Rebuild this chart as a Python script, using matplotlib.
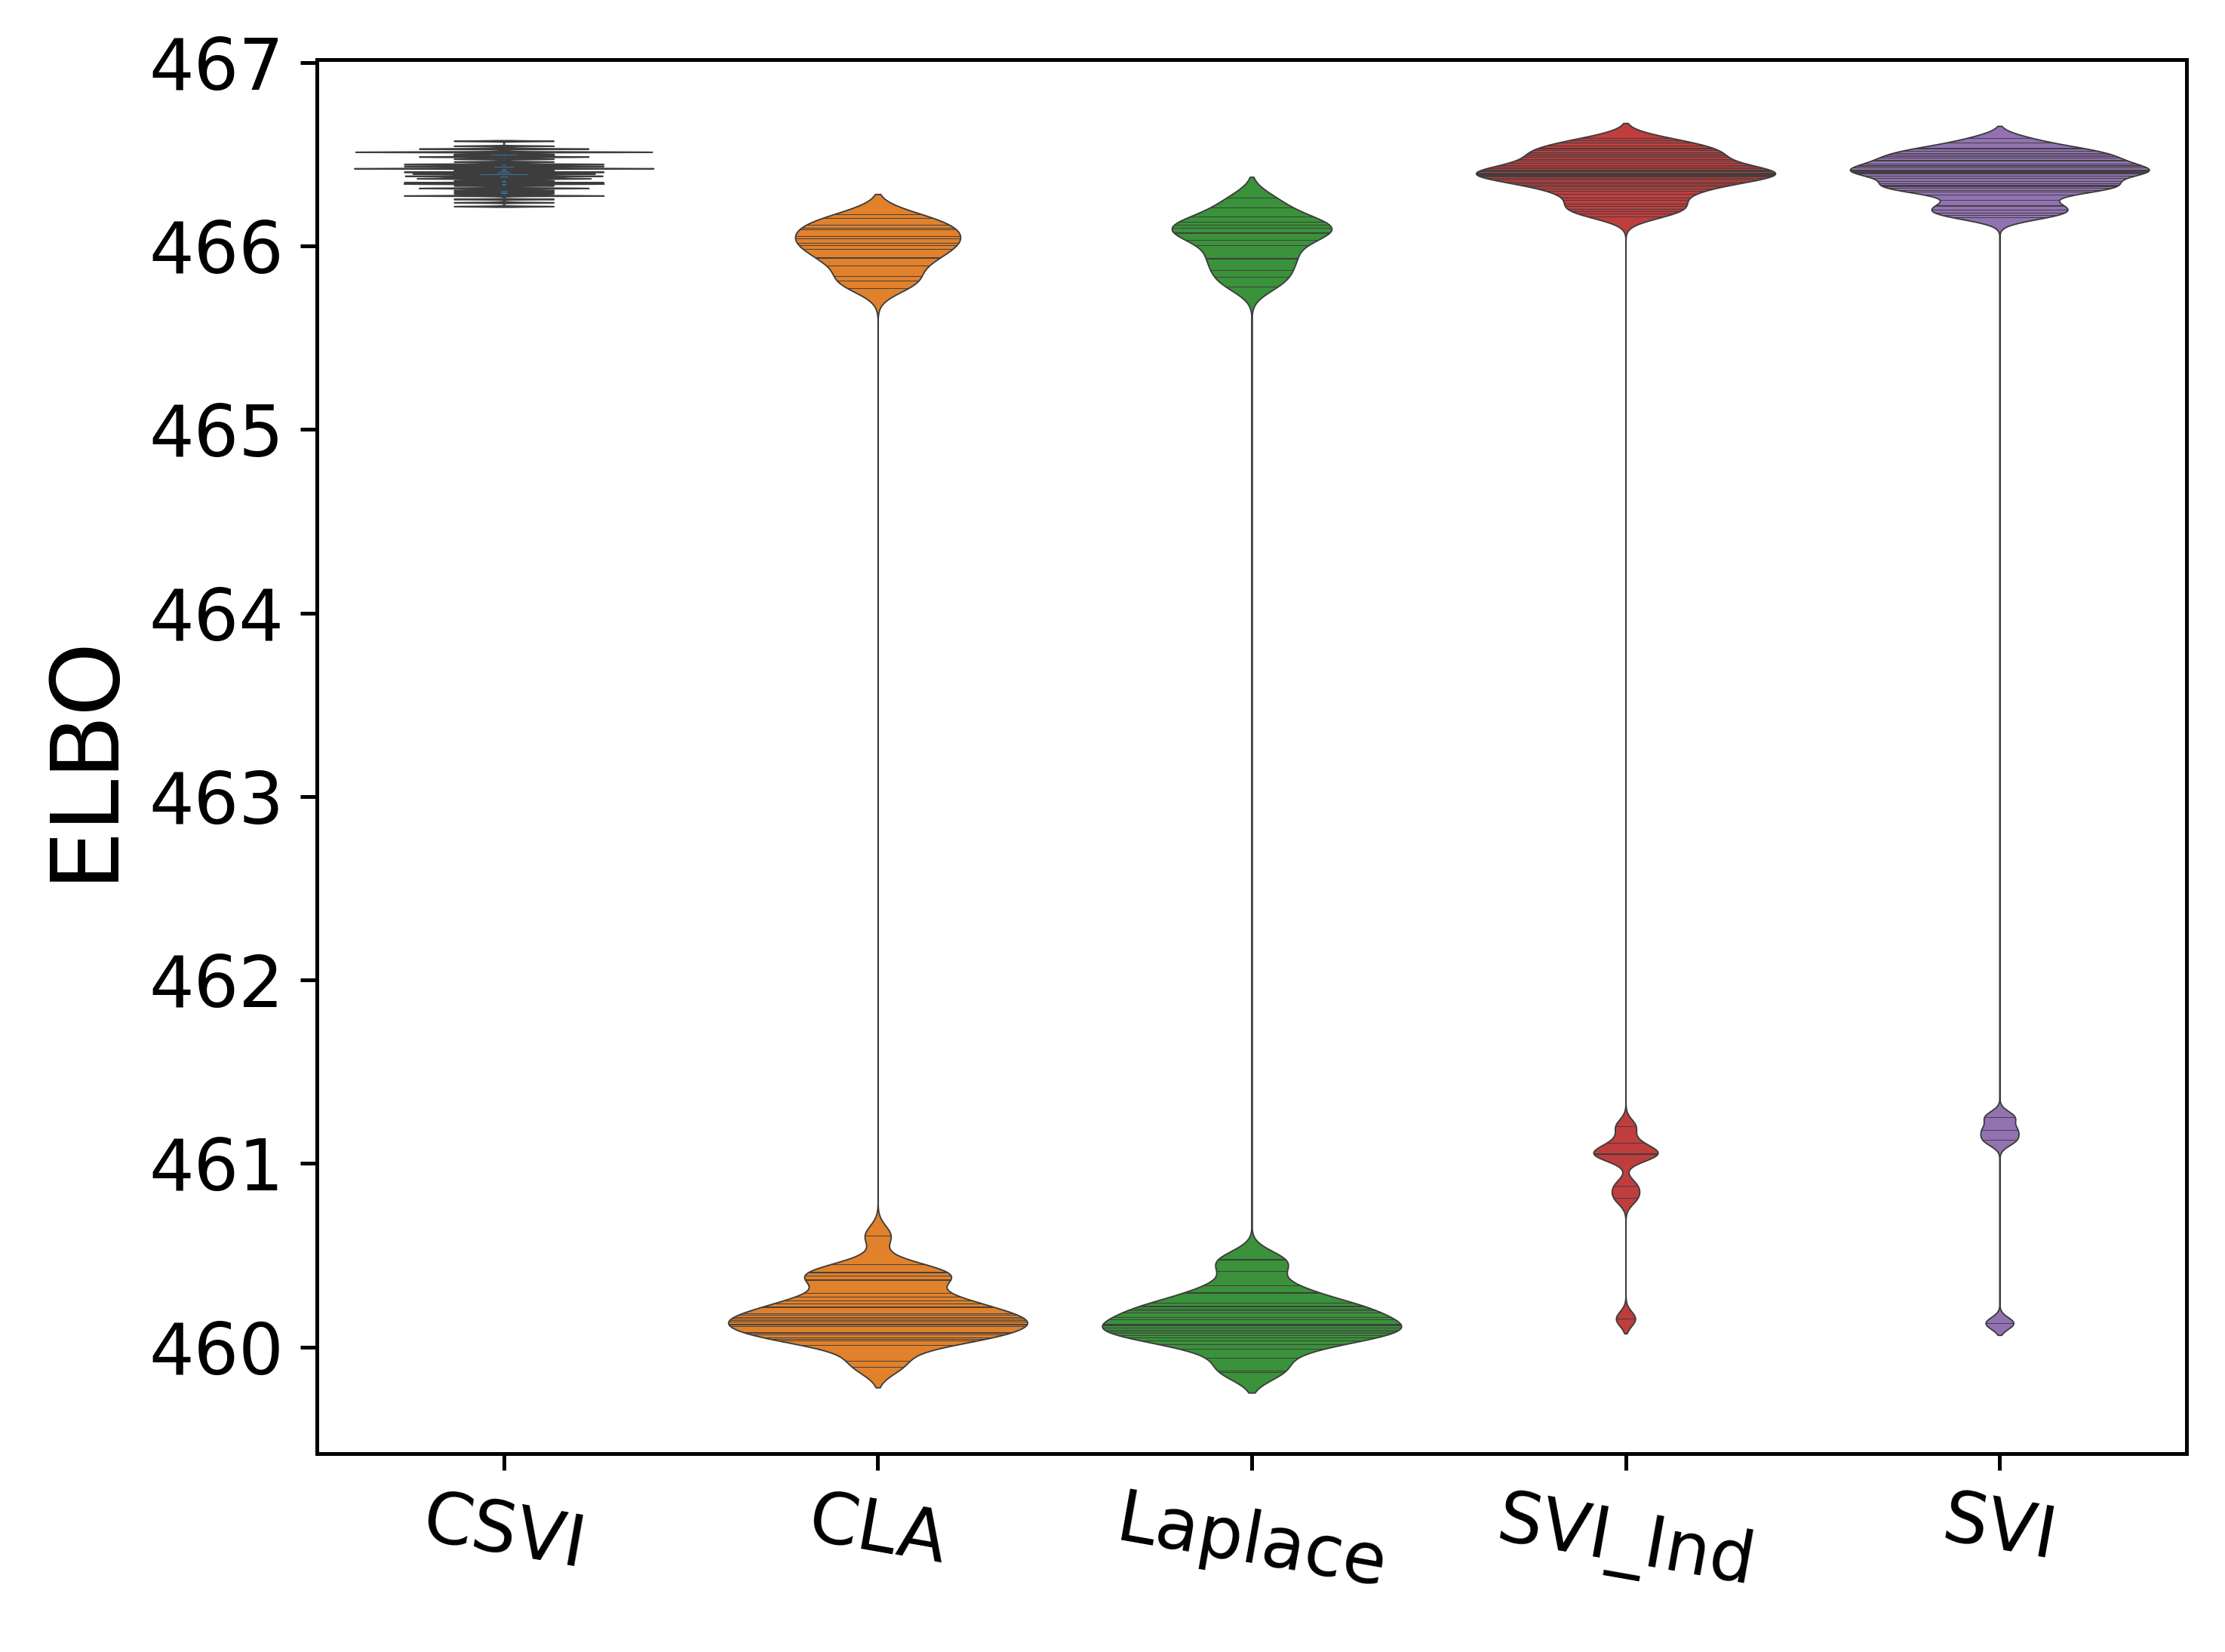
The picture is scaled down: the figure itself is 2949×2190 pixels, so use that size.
import numpy as np
import pandas as pd
import matplotlib
matplotlib.use("Agg")
import matplotlib.pyplot as plt
import seaborn as sns

methods = ["CSVI", "CLA", "Laplace", "SVI_Ind", "SVI"]

csvi = [466.572, 466.545, 466.5285, 466.5305, 466.512, 466.512, 466.5125,
        466.500, 466.493, 466.485, 466.487, 466.474, 466.459, 466.446, 466.446,
        466.435, 466.435, 466.427, 466.422, 466.422, 466.4225, 466.412,
        466.403, 466.403, 466.393, 466.3945, 466.387, 466.381, 466.3815,
        466.372, 466.3665, 466.3685, 466.356, 466.346, 466.346, 466.339,
        466.339, 466.329, 466.314, 466.316, 466.303, 466.294, 466.285,
        466.274, 466.274, 466.255, 466.237, 466.216]

cla = [466.171, 466.151, 466.114, 466.100, 466.090, 466.052, 466.040, 466.015,
       466.003, 465.982, 465.937, 465.933, 465.892, 465.834, 465.810, 465.770,
       460.606, 460.450, 460.409, 460.405, 460.390, 460.369, 460.365, 460.294,
       460.273, 460.254, 460.236, 460.220, 460.216, 460.185, 460.175, 460.161,
       460.154, 460.147, 460.140, 460.125, 460.121, 460.113, 460.081, 460.077,
       460.068, 460.054, 460.044, 460.035, 460.010, 459.925, 459.891]

laplace = [466.263, 466.208, 466.159, 466.130, 466.114, 466.100, 466.073, 466.069,
           466.032, 466.003, 465.936, 465.932, 465.867, 465.830, 465.777,
           460.478, 460.474, 460.413, 460.335, 460.297, 460.293, 460.243, 460.224,
           460.220, 460.209, 460.199, 460.188, 460.161, 460.151, 460.127, 460.122,
           460.118, 460.106, 460.093, 460.083, 460.075, 460.065, 460.054, 460.037,
           460.017, 459.990, 459.942, 459.871, 459.864]

svi_ind = [466.589, 466.575, 466.562, 466.548, 466.533, 466.531, 466.521, 466.511,
           466.501, 466.493, 466.484, 466.473, 466.463, 466.452, 466.441, 466.433,
           466.422, 466.415, 466.411, 466.405, 466.400, 466.396, 466.394, 466.389,
           466.387, 466.381, 466.376, 466.370, 466.360, 466.351, 466.340, 466.332,
           466.323, 466.312, 466.299, 466.285, 466.264, 466.251, 466.230, 466.216,
           466.203, 466.189, 466.175, 466.162,
           461.202, 461.112, 461.053, 461.051, 461.049, 460.878, 460.813, 460.154]

svi = [466.589, 466.562, 466.533, 466.531, 466.518, 466.507, 466.497, 466.488,
       466.480, 466.470, 466.463, 466.449, 466.439, 466.437, 466.429, 466.414,
       466.410, 466.406, 466.402, 466.398, 466.395, 466.381, 466.370, 466.353,
       466.340, 466.333, 466.327, 466.325, 466.315, 466.306, 466.296, 466.278,
       466.251, 466.223, 466.216, 466.196, 466.182, 466.169, 466.155,
       461.254, 461.184, 461.127, 460.130]

series = [csvi, cla, laplace, svi_ind, svi]
df = pd.DataFrame({
    "method": [m for m, s in zip(methods, series) for _ in s],
    "ELBO": [v for s in series for v in s],
})

fig = plt.figure(figsize=(2949 / 450, 2190 / 450), dpi=450)
ax = fig.add_axes([0.1424, 0.1202, 0.8403, 0.8436])

common = dict(data=df, x="method", y="ELBO", order=methods, inner="stick",
              cut=2, gridsize=1000, linewidth=0.3, ax=ax)
try:
    sns.violinplot(hue="method", hue_order=methods, palette="tab10", legend=False,
                   bw_method=0.02, density_norm="width", **common)
except TypeError:
    sns.violinplot(palette="tab10", bw=0.02, scale="width", **common)

ax.set_xlim(-0.5, 4.5)
ax.set_ylim(459.42, 467.014)
ax.set_xlabel("")
ax.set_ylabel("ELBO", fontsize=20)
ax.tick_params(labelsize=15)
plt.setp(ax.get_xticklabels(), rotation=-10)

fig.savefig("out.png", dpi=450)
